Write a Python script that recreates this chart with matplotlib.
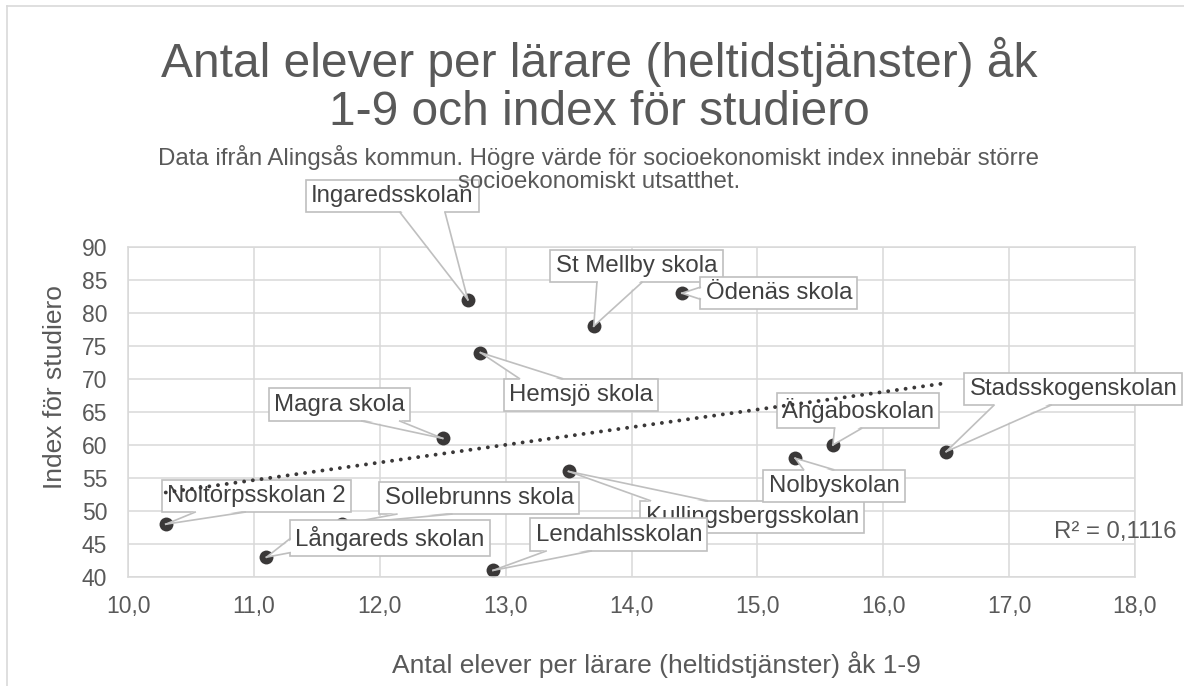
import numpy as np
import matplotlib
matplotlib.use("Agg")
import matplotlib.pyplot as plt
from matplotlib.lines import Line2D
from matplotlib.patches import Polygon
from matplotlib.ticker import FuncFormatter, MultipleLocator

# data
schools = ["Noltorpsskolan 2", "Sollebrunns skola", "Långareds skolan", "Magra skola",
           "Ingaredsskolan", "Hemsjö skola", "Kullingsbergsskolan", "Lendahlsskolan",
           "St Mellby skola", "Ödenäs skola", "Nolbyskolan", "Ängaboskolan",
           "Stadsskogenskolan"]
elever_per_larare = [10.3, 11.7, 11.1, 12.5, 12.7, 12.8, 13.5, 12.9, 13.7, 14.4, 15.3, 15.6, 16.5]
studiero = [48, 48, 43, 61, 82, 74, 56, 41, 78, 83, 58, 60, 59]

title = "Antal elever per lärare (heltidstjänster) åk\n1-9 och index för studiero"
subtitle = ("Data ifrån Alingsås kommun. Högre värde för socioekonomiskt index innebär större\n"
            "socioekonomiskt utsatthet.")
xlabel = "Antal elever per lärare (heltidstjänster) åk 1-9"
ylabel = "Index för studiero"

# callout box centres (data coords) and wedge base width in px
label_pos = {
    "Noltorpsskolan 2": (11.02, 52.3, 50),
    "Sollebrunns skola": (12.79, 52.0, 55),
    "Långareds skolan": (12.08, 45.9, 14),
    "Magra skola": (11.68, 66.1, 38),
    "Ingaredsskolan": (12.10, 97.7, 45),
    "Hemsjö skola": (13.60, 67.6, 43),
    "Kullingsbergsskolan": (14.96, 49.1, 57),
    "Lendahlsskolan": (13.90, 46.4, 45),
    "St Mellby skola": (14.04, 87.1, 45),
    "Ödenäs skola": (15.17, 83.0, 12),
    "Nolbyskolan": (15.61, 53.8, 30),
    "Ängaboskolan": (15.80, 65.2, 27),
    "Stadsskogenskolan": (17.51, 68.5, 57),
}

plt.rcParams["font.family"] = ["Liberation Sans", "DejaVu Sans"]
GRID = "#D9D9D9"
TXT = "#595959"
DARK = "#3A3838"
BOX = "#BFBFBF"

W, H = 1184, 686
fig = plt.figure(figsize=(W / 100, H / 100), dpi=100)
ax = fig.add_axes([128 / W, 1 - 577 / H, (1135 - 128) / W, (577 - 247) / H])

x = np.array(elever_per_larare)
y = np.array(studiero)

ax.scatter(x, y, s=100, color=DARK, zorder=2, linewidths=0)

# linear trendline over the data range
k, m = np.polyfit(x, y, 1)
xt = np.array([x.min(), x.max()])
ax.plot(xt, k * xt + m, color=DARK, lw=2.8, linestyle=(0, (0.01, 2.25)),
        dash_capstyle="round", zorder=6)
r2 = np.corrcoef(x, y)[0, 1] ** 2

ax.set_xlim(10, 18)
ax.set_ylim(40, 90)
ax.xaxis.set_major_locator(MultipleLocator(1))
ax.yaxis.set_major_locator(MultipleLocator(5))
ax.xaxis.set_major_formatter(FuncFormatter(lambda v, p: f"{v:.1f}".replace(".", ",")))
ax.yaxis.set_major_formatter(FuncFormatter(lambda v, p: f"{v:.0f}"))
ax.tick_params(length=0, labelsize=16.5, labelcolor=TXT)
ax.tick_params(axis="x", pad=13)
ax.tick_params(axis="y", pad=15)
ax.grid(True, color=GRID, lw=1.1, zorder=0)
ax.set_axisbelow(True)
for sp in ax.spines.values():
    sp.set_color(GRID)
    sp.set_linewidth(1.1)

# data labels in boxes
labels = []
for i, (name, xi, yi) in enumerate(zip(schools, x, y)):
    lx, ly, tw = label_pos[name]
    t = ax.text(lx, ly, name, ha="center", va="center", fontsize=17.3, color="#404040",
                zorder=3 + i * 0.01, clip_on=False,
                bbox=dict(boxstyle="square,pad=0.22", fc="white", ec=BOX, lw=1.2))
    labels.append((t, xi, yi, tw, 3 + i * 0.01))

# callout wedges from box edge to the point (Excel style)
fig.canvas.draw()
rend = fig.canvas.get_renderer()
inv = ax.transData.inverted()
for t, xi, yi, tw, z in labels:
    bb = t.get_bbox_patch().get_window_extent(rend)
    px, py = ax.transData.transform((xi, yi))
    cx, cy = (bb.x0 + bb.x1) / 2, (bb.y0 + bb.y1) / 2
    dx, dy = px - cx, py - cy
    if abs(dx) / (bb.width / 2) > abs(dy) / (bb.height / 2):
        s = 1 if dx > 0 else -1
        ex = bb.x1 if s > 0 else bb.x0
        mid = np.clip(cy + 0.4 * dy, bb.y0 + tw / 2 + 2, bb.y1 - tw / 2 - 2)
        b1, b2 = (ex, mid - tw / 2), (ex, mid + tw / 2)
        f1, f2 = (ex - 1.5 * s, mid - tw / 2 + 1), (ex - 1.5 * s, mid + tw / 2 - 1)
    else:
        s = 1 if dy > 0 else -1
        ey = bb.y1 if s > 0 else bb.y0
        mid = np.clip(cx + 0.4 * dx, bb.x0 + tw / 2 + 2, bb.x1 - tw / 2 - 2)
        b1, b2 = (mid - tw / 2, ey), (mid + tw / 2, ey)
        f1, f2 = (mid - tw / 2 + 1, ey - 1.5 * s), (mid + tw / 2 - 1, ey - 1.5 * s)
    tip = (px, py)
    fill = inv.transform([f1, tip, f2])
    ax.add_patch(Polygon(fill, closed=True, fc="white", ec="none",
                         zorder=z + 0.004, clip_on=False))
    for b in (b1, b2):
        seg = inv.transform([b, tip])
        ax.add_line(Line2D(seg[:, 0], seg[:, 1], color=BOX, lw=1.2,
                           zorder=z + 0.005, clip_on=False))

fig.text(599 / W, 1 - 86 / H, title, ha="center", va="center", fontsize=34.5,
         color=TXT, linespacing=1.08)
fig.text(599 / W, 1 - 169 / H, subtitle, ha="center", va="center", fontsize=17.3,
         color=TXT, linespacing=1.05)
fig.text(55 / W, 1 - 387 / H, ylabel, rotation=90, ha="center", va="center",
         fontsize=19, color=TXT)
fig.text(656 / W, 1 - 665 / H, xlabel, ha="center", va="center",
         fontsize=19, color=TXT)
fig.text(1177 / W, 1 - 532 / H, f"R² = {r2:.4f}".replace(".", ","), ha="right",
         va="center", fontsize=17.3, color=TXT)

# chart-area border (cropped on right and bottom)
fig.add_artist(Line2D([7 / W, 1], [1 - 6 / H, 1 - 6 / H], color=GRID, lw=1.2))
fig.add_artist(Line2D([7 / W, 7 / W], [0, 1 - 6 / H], color=GRID, lw=1.2))

fig.savefig("out.png", dpi=100)
